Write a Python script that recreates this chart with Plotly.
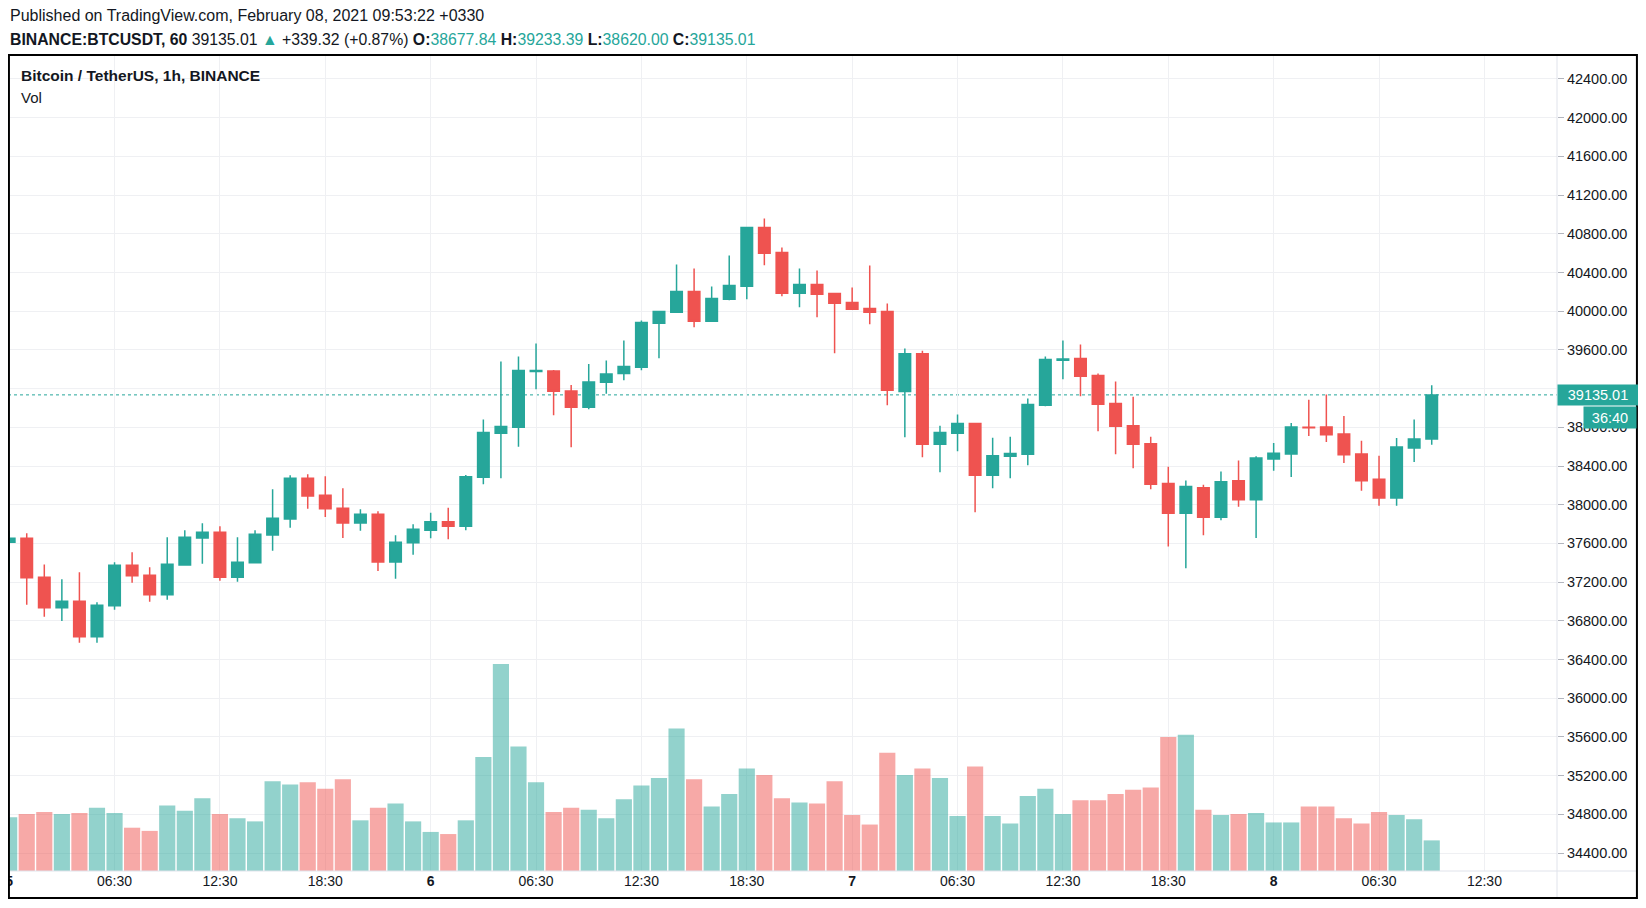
import pandas as pd
import plotly.graph_objects as go

# ---------------- data ----------------
start_time = "2021-02-05 00:30"

opens = [37612, 37654, 37251, 36934, 37003, 36635, 36955, 37375, 37272, 37069,
         37378, 37657, 37716, 37251, 37399, 37688, 37853, 38273, 38098, 37964,
         37812, 37902, 37409, 37606, 37735, 37824, 37776, 38283, 38738, 38800,
         39378, 39383, 39176, 39007, 39266, 39355, 39421, 39876, 39990, 40204,
         39897, 40124, 40259, 40866, 40607, 40186, 40276, 40183, 40090, 40028,
         39997, 39169, 39559, 38624, 38738, 38838, 38304, 38500, 38521, 39028,
         39493, 39510, 39335, 39045, 38817, 38631, 38218, 37911, 38176, 37869,
         38247, 38051, 38472, 38523, 38800, 38804, 38730, 38523, 38262, 38070,
         38586, 38677.84]
highs = [37733, 37705, 37382, 37230, 37303, 36993, 37406, 37509, 37354, 37664,
         37736, 37809, 37778, 37664, 37736, 38160, 38304, 38315, 38294, 38170,
         37953, 37933, 37685, 37798, 37918, 37969, 38307, 38880, 39479, 39531,
         39666, 39392, 39238, 39455, 39490, 39697, 39904, 40000, 40483, 40441,
         40255, 40576, 40870, 40959, 40659, 40441, 40421, 40190, 40245, 40472,
         40079, 39614, 39590, 38817, 38931, 38845, 38693, 38703, 39097, 39531,
         39697, 39655, 39355, 39273, 39117, 38703, 38393, 38249, 38207, 38342,
         38457, 38501, 38638, 38844, 39084, 39139, 38918, 38660, 38505, 38689,
         38881, 39233.39]
lows = [37303, 36965, 36841, 36797, 36573, 36573, 36914, 37193, 36996, 37017,
        37376, 37389, 37213, 37203, 37397, 37523, 37761, 37957, 37874, 37657,
        37730, 37316, 37234, 37482, 37652, 37642, 37735, 38211, 38273, 38600,
        39193, 38924, 38593, 38986, 39148, 39286, 39390, 39514, 39988, 39835,
        39895, 40114, 40124, 40476, 40155, 40041, 39938, 39566, 40015, 39866,
        39028, 38697, 38490, 38335, 38552, 37921, 38169, 38273, 38407, 39017,
        39297, 39121, 38759, 38521, 38376, 38159, 37569, 37342, 37683, 37838,
        37978, 37657, 38350, 38287, 38711, 38649, 38431, 38144, 37989, 37989,
        38442, 38620.00]
closes = [37654, 37244, 36934, 37003, 36635, 36962, 37375, 37265, 37069, 37385,
          37664, 37716, 37251, 37406, 37695, 37860, 38273, 38091, 37957, 37812,
          37902, 37409, 37612, 37747, 37824, 37776, 38290, 38745, 38807, 39386,
          39388, 39173, 39007, 39269, 39352, 39428, 39883, 39997, 40204, 39897,
          40131, 40266, 40866, 40600, 40186, 40276, 40176, 40083, 40021, 39990,
          39183, 39559, 38624, 38745, 38838, 38304, 38507, 38528, 39035, 39500,
          39507, 39328, 39038, 38811, 38624, 38211, 37911, 38187, 37869, 38238,
          38051, 38483, 38531, 38804, 38795, 38723, 38516, 38247, 38070, 38597,
          38677.84, 39135.01]
volumes = [51, 54, 56, 54, 55, 60, 55, 41, 38, 62,
           57, 69, 54, 50, 47, 85, 82, 84, 78, 87,
           48, 60, 64, 47, 37, 35, 48, 108, 196, 118,
           84, 56, 60, 58, 50, 68, 81, 88, 135, 87,
           61, 73, 97, 91, 69, 65, 64, 85, 53, 44,
           112, 91, 97, 88, 52, 99, 52, 45, 71, 78,
           54, 67, 67, 73, 77, 79, 127, 129, 58, 53,
           54, 55, 46, 46, 61, 61, 50, 45, 56, 53,
           49, 29]

tick_labels = ["<b>5</b>", "06:30", "12:30", "18:30", "<b>6</b>", "06:30", "12:30", "18:30",
               "<b>7</b>", "06:30", "12:30", "18:30", "<b>8</b>", "06:30", "12:30"]
price_ticks = [34400, 34800, 35200, 35600, 36000, 36400, 36800, 37200, 37600, 38000,
               38400, 38800, 39600, 40000, 40400, 40800, 41200, 41600, 42000, 42400]
hidden_grid_price = 39200   # gridline whose label sits under the last-price box

# ---------------- styling ----------------
TEAL = "#26a69a"
RED = "#ef5350"
GRID = "#eff0f3"
AXLINE = "#e0e3eb"
TXT = "#131722"
FONT = "Liberation Sans"

start = pd.Timestamp(start_time)
times = pd.date_range(start, periods=len(opens), freq="h")
tick_times = pd.date_range(start, periods=len(tick_labels), freq="6h")
vol_colors = ["rgba(38,166,154,0.5)" if c >= o else "rgba(239,83,80,0.5)"
              for o, c in zip(opens, closes)]

x_left = start - pd.Timedelta(minutes=4)
x_right = start + pd.Timedelta(minutes=int(88.14 * 60))

fig = go.Figure()
fig.add_trace(go.Bar(x=times, y=volumes, marker=dict(color=vol_colors, line=dict(width=0)),
                     yaxis="y", hoverinfo="skip"))
fig.add_trace(go.Candlestick(
    x=times, open=opens, high=highs, low=lows, close=closes, yaxis="y2",
    increasing=dict(line=dict(color=TEAL, width=1.5), fillcolor=TEAL),
    decreasing=dict(line=dict(color=RED, width=1.5), fillcolor=RED),
    whiskerwidth=0))

last_close = closes[-1]

fig.update_layout(
    width=1638, height=892,
    margin=dict(l=0, r=89, t=47, b=29, autoexpand=False),
    paper_bgcolor="white", plot_bgcolor="white",
    showlegend=False, bargap=0.08, boxgap=0.27, boxgroupgap=0.1,
    font=dict(family=FONT, color=TXT, size=14),
    xaxis=dict(type="date", range=[x_left, x_right], tickvals=tick_times, ticktext=tick_labels,
               showgrid=True, gridcolor=GRID, gridwidth=1, ticks="", automargin=False,
               ticklabeloverflow="allow", rangeslider=dict(visible=False), showline=False,
               zeroline=False, tickfont=dict(size=14, color=TXT)),
    yaxis=dict(range=[0, 773], visible=False, showgrid=False, zeroline=False, automargin=False),
    yaxis2=dict(overlaying="y", side="right", range=[34214, 42648], tickvals=price_ticks,
                tickformat=".2f", showgrid=True, gridcolor=GRID, ticks="outside", ticklen=6,
                tickcolor="#b2b5be", tickfont=dict(size=14.5, color=TXT), zeroline=False,
                showline=False, automargin=False),
)

fig.add_shape(type="line", xref="paper", yref="y2", x0=0, x1=1, y0=hidden_grid_price,
              y1=hidden_grid_price, line=dict(color=GRID, width=1), layer="below")

# last price dotted line
fig.add_shape(type="line", xref="paper", yref="y2", x0=0, x1=1, y0=last_close, y1=last_close,
              line=dict(color=TEAL, width=1, dash="dot"), layer="between")

# separators and frame
fig.add_shape(type="line", xref="paper", yref="paper", x0=1, x1=1, y0=-0.0331, y1=1,
              line=dict(color=AXLINE, width=1), layer="above")
fig.add_shape(type="line", xref="paper", yref="paper", x0=0, x1=1.0516, y0=0, y1=0,
              line=dict(color=AXLINE, width=1), layer="above")
fig.add_shape(type="rect", xref="paper", yref="paper", x0=0.0006, x1=1.0516, y0=-0.0331, y1=1,
              line=dict(color="black", width=2), layer="above")

# header
fig.add_annotation(xref="paper", yref="paper", x=0, y=1.0478, xanchor="left", yanchor="middle",
                   showarrow=False, text="Published on TradingView.com, February 08, 2021 09:53:22 +0330",
                   font=dict(size=16, color=TXT))
hdr2 = ("<b>BINANCE:BTCUSDT, 60</b> 39135.01 <span style='color:%s'>▲</span> +339.32 (+0.87%%) "
        "<b>O:</b><span style='color:%s'>38677.84</span> <b>H:</b><span style='color:%s'>39233.39</span> "
        "<b>L:</b><span style='color:%s'>38620.00</span> <b>C:</b><span style='color:%s'>39135.01</span>"
        % (TEAL, TEAL, TEAL, TEAL, TEAL))
fig.add_annotation(xref="paper", yref="paper", x=0, y=1.0196, xanchor="left", yanchor="middle",
                   showarrow=False, text=hdr2, font=dict(size=15.8, color=TXT))
fig.add_annotation(xref="paper", yref="paper", x=0.0071, y=0.9743, xanchor="left", yanchor="middle",
                   showarrow=False, text="<b>Bitcoin / TetherUS, 1h, BINANCE</b>",
                   font=dict(size=15.5, color=TXT))
fig.add_annotation(xref="paper", yref="paper", x=0.0071, y=0.9485, xanchor="left", yanchor="middle",
                   showarrow=False, text="Vol", font=dict(size=15, color=TXT))

# price label and countdown
fig.add_annotation(xref="paper", yref="y2", x=1.0, y=last_close, xanchor="left", yanchor="middle",
                   showarrow=False, text=f"{last_close:.2f}", width=78, height=18, borderpad=1,
                   bgcolor=TEAL, font=dict(size=14.5, color="white"), align="center")
fig.add_annotation(xref="paper", yref="y2", x=1.0516, y=last_close, xanchor="right", yanchor="top",
                   yshift=-11, showarrow=False, text="36:40", width=50, height=19, borderpad=1,
                   bgcolor=TEAL, font=dict(size=14.5, color="white"), align="center")

fig.write_html("out.html")
